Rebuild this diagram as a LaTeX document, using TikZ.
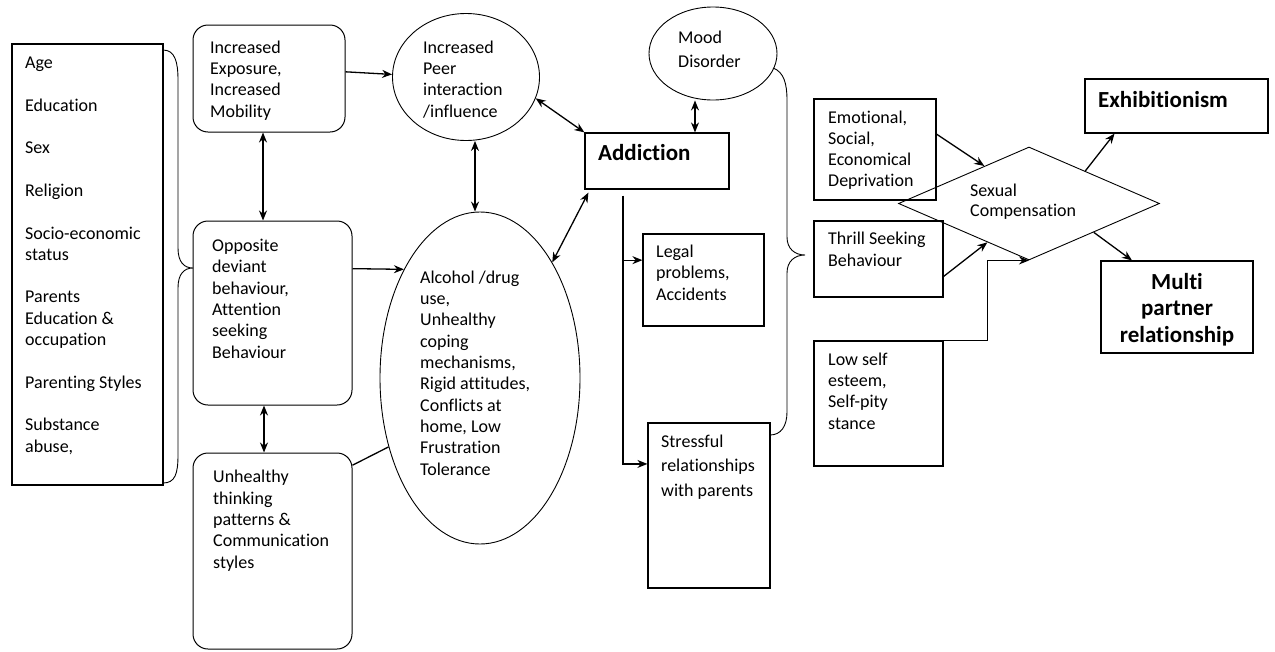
\documentclass[tikz,border=0pt]{standalone}
\usepackage{fontspec}
\setmainfont[Ligatures=NoCommon]{Carlito}
\usetikzlibrary{arrows.meta,shapes.geometric}

\begin{document}
\begin{tikzpicture}[x=1pt,y=-1pt,
  every node/.style={font=\fontsize{18}{21.3}\selectfont},
  box/.style 2 args={draw,rectangle,inner sep=0,line width=1.2pt,minimum width=#1,minimum height=#2},
  rbox/.style 2 args={draw,rectangle,rounded corners=15pt,inner sep=0,line width=1pt,minimum width=#1,minimum height=#2},
  oval/.style 2 args={draw,ellipse,inner sep=0,line width=0.9pt,minimum width=#1,minimum height=#2},
  txt/.style={anchor=base west,align=left,inner sep=0},
  btxt/.style={inner sep=0,font=\bfseries\fontsize{23}{26.5}\selectfont},
  arr/.style={line width=1.3pt,-{Stealth[length=10pt,width=8pt]}},
  dbl/.style={line width=1.3pt,{Stealth[length=10pt,width=8pt]}-{Stealth[length=10pt,width=8pt]}}]
\useasboundingbox (0,0) rectangle (1275,651);

% shapes
\node[box={151pt}{441pt}] (factors) at (87.5,264.5) {};
\node[rbox={152pt}{107pt}] (expo) at (269,78.5) {};
\node[rbox={159pt}{184pt}] (deviant) at (272.5,313) {};
\node[rbox={159pt}{196pt}] (thinking) at (272.5,551) {};
\node[oval={147pt}{127pt}] (peer) at (466,77) {};
\node[oval={200pt}{332pt}] (alcohol) at (480,378) {};
\node[box={144pt}{56pt}] (addiction) at (657,161) {};
\node[oval={128pt}{93pt}] (mood) at (713,53.5) {};
\node[box={121pt}{92pt}] (legal) at (703.5,280) {};
\node[box={122pt}{165pt}] (stress) at (709,505.5) {};
\node[box={122pt}{101pt}] (emot) at (875,149.5) {};
\node[box={129pt}{76pt}] (thrill) at (878.5,259) {};
\node[box={129pt}{125pt}] (lowself) at (878.5,403.5) {};
\node[draw,diamond,inner sep=0,line width=0.9pt,minimum width=261pt,minimum height=113pt] (sexcomp) at (1029,203.5) {};
\node[box={183pt}{54pt}] (exhib) at (1176.5,106) {};
\node[box={152pt}{92pt}] (multi) at (1177,307) {};

% texts (anchored at the baseline of the last line)
\node[txt] (factors-t) at (25,452) {Age\\[21.3pt]Education\\[21.3pt]Sex\\[21.3pt]Religion\\[21.3pt]Socio-economic\\status\\[21.3pt]Parents\\Education \&\\occupation\\[21.3pt]Parenting Styles\\[21.3pt]Substance\\abuse,};
\node[txt] (expo-t) at (210,117) {Increased\\Exposure,\\Increased\\Mobility};
\node[txt] (peer-t) at (423,117) {Increased\\Peer\\interaction\\/influence};
\node[txt] (deviant-t) at (212,358) {Opposite\\deviant\\behaviour,\\Attention\\seeking\\Behaviour};
\node[txt] (thinking-t) at (213,568) {Unhealthy\\thinking\\patterns \&\\Communication\\styles};
\node[txt] (alcohol-t) at (420,475) {Alcohol /drug\\use,\\Unhealthy\\coping\\mechanisms,\\Rigid attitudes,\\Conflicts at\\home, Low\\Frustration\\Tolerance};
\node[txt,btxt] (addiction-t) at (598,160) {Addiction};
\node[txt,font=\fontsize{18}{24}\selectfont] (mood-t) at (678,67) {Mood\\Disorder};
\node[txt] (legal-t) at (656,300) {Legal\\problems,\\Accidents};
\node[txt,font=\fontsize{18}{24.5}\selectfont] (stress-t) at (661,496) {Stressful\\relationships\\with parents};
\node[txt,font=\fontsize{18}{20.7}\selectfont] (emot-t) at (828,186) {Emotional,\\Social,\\Economical\\Deprivation};
\node[txt] (thrill-t) at (828,266) {Thrill Seeking\\Behaviour};
\node[txt] (lowself-t) at (828,429) {Low self\\esteem,\\Self-pity\\stance};
\node[txt,font=\fontsize{18}{20}\selectfont] (sexcomp-t) at (970,216) {Sexual\\Compensation};
\node[txt,btxt] (exhib-t) at (1098,107) {Exhibitionism};
\node[btxt,anchor=base,align=center] (multi-t) at (1177,342) {Multi\\partner\\relationship};

% braces
\draw[line width=0.9pt] (163,50) .. controls (175,50) and (178,62) .. (178,80) -- (178,248)
  .. controls (178,262) and (184,268) .. (193,268) .. controls (184,268) and (178,274) .. (178,288)
  -- (178,455) .. controls (178,474) and (175,483) .. (163,483);
\draw[line width=0.9pt] (773,68) .. controls (784,72) and (787,84) .. (787,100) -- (787,237)
  .. controls (787,249) and (795,255) .. (805,255) .. controls (795,255) and (787,261) .. (787,273)
  -- (787,412) .. controls (787,426) and (781,435) .. (770,435);

% connectors
\draw[arr] (expo.5) -- (peer.178);
\draw[dbl] ([xshift=-6pt]expo.south) -- ([xshift=-6pt]expo.south |- deviant.north);
\draw[dbl] ([xshift=-8.5pt]deviant.south) -- ([xshift=-8.5pt]deviant.south |- thinking.north);
\draw[arr] (deviant.29) -- (alcohol.125);
\draw[line width=1.3pt] (thinking.47) -- (alcohol.217);
\draw[dbl] ([xshift=9pt]peer.south) -- ([xshift=9pt]peer.south |- alcohol.north);
\draw[dbl] (peer.-17) -- (addiction.north west);
\draw[dbl] ([xshift=-18pt]mood.south) -- ([xshift=-18pt]mood.south |- addiction.north);
\draw[dbl] (alcohol.58) -- ([xshift=4pt,yshift=-3pt]addiction.south west);
\coordinate (trunk) at ([xshift=-34pt,yshift=-6pt]addiction.south);
\draw[arr] (trunk) |- (stress.146);
\draw[arr] (trunk |- legal.162) -- (legal.162);
\draw[arr] (emot.14) -- (sexcomp.140);
\draw[arr] (thrill.-15) -- (sexcomp.223);
\draw[arr] (lowself.north east) -- ++(44,0) |- (sexcomp.south);
\draw[arr] (sexcomp.30) -- (exhib.204);
\draw[arr] (sexcomp.-24) -- (multi.134);
\end{tikzpicture}
\end{document}
